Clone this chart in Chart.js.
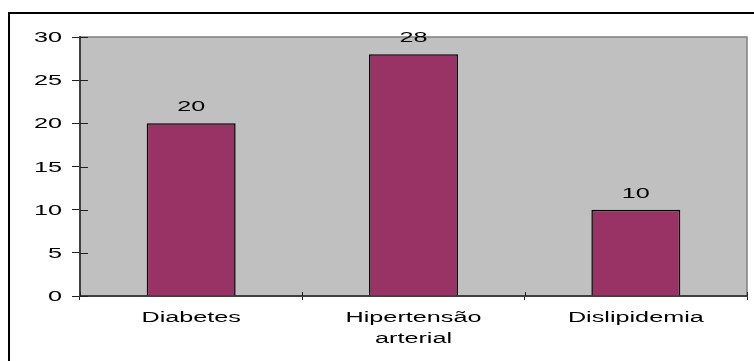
<!DOCTYPE html>
<html>
<head>
<meta charset="utf-8">
<script src="https://cdn.jsdelivr.net/npm/chart.js@4/dist/chart.umd.min.js"></script>
<style>
  html, body { margin: 0; padding: 0; background: #ffffff; }
  canvas { display: block; }
</style>
</head>
<body>
<canvas id="c" width="754" height="361"></canvas>
<script>
// Categories and counts
const categories = [['Diabetes'], ['Hipertensão', 'arterial'], ['Dislipidemia']];
const values = [20, 28, 10];
const yMin = 0, yMax = 30, yStep = 5;

const FONT = '14px "Liberation Sans", Arial, sans-serif';
const STRETCH = 1.8; // wide lettering

function wideText(ctx, text, x, y, align) {
  ctx.save();
  ctx.translate(x, y);
  ctx.scale(STRETCH, 1);
  ctx.textAlign = align;
  ctx.textBaseline = 'alphabetic';
  ctx.fillText(text, 0, 0);
  ctx.restore();
}

const decor = {
  id: 'decor',
  beforeDraw(chart) {
    const { ctx, chartArea: a } = chart;
    ctx.save();
    // outer frame
    ctx.strokeStyle = '#000000';
    ctx.lineWidth = 2;
    ctx.strokeRect(9, 13, 800, 400);
    // plot background
    ctx.fillStyle = '#C0C0C0';
    ctx.fillRect(a.left, a.top, a.right - a.left, a.bottom - a.top);
    ctx.strokeStyle = '#808080';
    ctx.lineWidth = 1.5;
    ctx.beginPath();
    ctx.moveTo(a.left, a.top);
    ctx.lineTo(a.right, a.top);
    ctx.lineTo(a.right, a.bottom);
    ctx.stroke();
    ctx.restore();
  },
  afterDraw(chart) {
    const { ctx, chartArea: a } = chart;
    const ys = chart.scales.y, xs = chart.scales.x;
    ctx.save();
    // inner halves of the crossing tick marks
    ctx.strokeStyle = '#202020';
    ctx.lineWidth = 1;
    ctx.beginPath();
    ys.ticks.forEach(t => {
      const py = Math.round(ys.getPixelForValue(t.value)) + 0.5;
      ctx.moveTo(a.left, py);
      ctx.lineTo(a.left + 8, py);
    });
    for (let i = 0; i <= categories.length; i++) {
      const px = Math.round(a.left + (a.right - a.left) * i / categories.length) + 0.5;
      ctx.moveTo(px, a.bottom);
      ctx.lineTo(px, a.bottom - 4);
    }
    ctx.stroke();

    ctx.fillStyle = '#000000';
    ctx.font = FONT;
    // y tick labels
    ys.ticks.forEach(t => {
      wideText(ctx, String(t.value), 62, ys.getPixelForValue(t.value) + 5, 'right');
    });
    // category labels
    categories.forEach((lines, i) => {
      const cx = xs.getPixelForValue(i);
      lines.forEach((ln, j) => wideText(ctx, ln, cx, 322 + j * 21, 'center'));
    });
    // value labels
    const meta = chart.getDatasetMeta(0);
    meta.data.forEach((bar, i) => {
      wideText(ctx, String(values[i]), bar.x, bar.y - 12, 'center');
    });
    ctx.restore();
  }
};

new Chart(document.getElementById('c'), {
  type: 'bar',
  data: {
    labels: categories,
    datasets: [{
      data: values,
      backgroundColor: '#993366',
      borderColor: '#000000',
      borderWidth: 1.5,
      barPercentage: 0.4,
      categoryPercentage: 1.0
    }]
  },
  options: {
    responsive: false,
    animation: false,
    layout: { padding: { left: 0, top: 37, right: 7, bottom: 0 } },
    plugins: { legend: { display: false }, tooltip: { enabled: false } },
    scales: {
      x: {
        offset: true,
        grid: { offset: true, drawOnChartArea: false, tickLength: 4, color: '#202020' },
        border: { color: '#404040', width: 2 },
        ticks: { display: false },
        afterFit(s) { s.height = 65; }
      },
      y: {
        min: yMin,
        max: yMax,
        grid: { drawOnChartArea: false, tickLength: 8, color: '#202020' },
        border: { color: '#404040', width: 2 },
        ticks: { display: false, stepSize: yStep },
        afterFit(s) { s.width = 80; }
      }
    }
  },
  plugins: [decor]
});
</script>
</body>
</html>
